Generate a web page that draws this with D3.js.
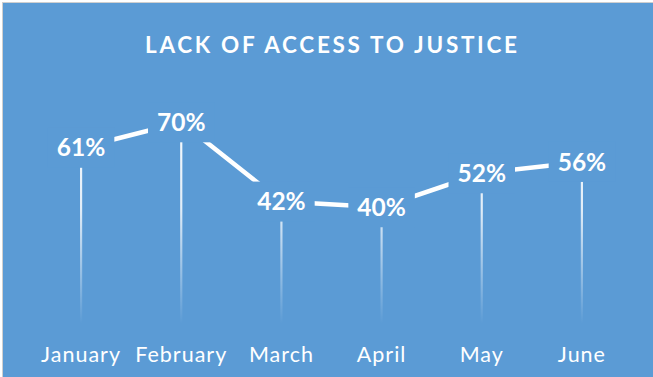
<!DOCTYPE html>
<html>
<head>
<meta charset="utf-8">
<script src="https://cdn.jsdelivr.net/npm/d3@7"></script>
<style>
  html, body { margin: 0; padding: 0; background: #ffffff; }
  svg { display: block; }
</style>
</head>
<body>
<svg id="chart" width="653" height="377"></svg>
<script>
// Monthly share of respondents reporting lack of access to justice
const months = ["January", "February", "March", "April", "May", "June"];
const shares = [61, 70, 42, 40, 52, 56];
const valueDomain = [0, 80];
const chartTitle = "LACK OF ACCESS TO JUSTICE";

const W = 653, H = 377;
const bg = "#5b9bd5";
const fontFamily = "Lato, 'Open Sans', sans-serif";

const svg = d3.select("#chart");

// Frame
svg.append("rect").attr("x", 0).attr("y", 0).attr("width", W).attr("height", H).attr("fill", "#ffffff");
svg.append("rect").attr("x", 2.5).attr("y", 2.5).attr("width", W + 10).attr("height", H + 10)
  .attr("fill", bg).attr("stroke", "#cfcfcf").attr("stroke-width", 1);

// Plot area
const plot = { left: 31, right: 632, top: 94, bottom: 320.5 };

const x = d3.scaleBand().domain(months).range([plot.left, plot.right]);
const y = d3.scaleLinear().domain(valueDomain).range([plot.bottom, plot.top]);
const cx = m => x(m) + x.bandwidth() / 2;

const data = months.map((m, i) => ({ month: m, value: shares[i] }));

// Fading gradient for the drop lines
const defs = svg.append("defs");
const grad = defs.append("linearGradient")
  .attr("id", "dropFade")
  .attr("gradientUnits", "userSpaceOnUse")
  .attr("x1", 0).attr("y1", plot.top).attr("x2", 0).attr("y2", plot.bottom + 3);
grad.append("stop").attr("offset", "0%").attr("stop-color", "#ffffff").attr("stop-opacity", 1);
grad.append("stop").attr("offset", "50%").attr("stop-color", "#ffffff").attr("stop-opacity", 0.82);
grad.append("stop").attr("offset", "100%").attr("stop-color", "#ffffff").attr("stop-opacity", 0);

// Title
svg.append("text")
  .attr("x", 145).attr("y", 52.5)
  .attr("textLength", 372).attr("lengthAdjust", "spacing")
  .attr("fill", "#ffffff")
  .attr("font-family", fontFamily)
  .attr("font-weight", "bold")
  .attr("font-size", 22.5)
  .text(chartTitle);

// Drop lines from each point to the category axis
svg.append("g").selectAll("line").data(data).join("line")
  .attr("x1", d => cx(d.month)).attr("x2", d => cx(d.month))
  .attr("y1", d => y(d.value)).attr("y2", plot.bottom + 3)
  .attr("stroke", "url(#dropFade)")
  .attr("stroke-width", 2.2);

// Series line
const line = d3.line().x(d => cx(d.month)).y(d => y(d.value));
svg.append("path").datum(data)
  .attr("d", line)
  .attr("fill", "none")
  .attr("stroke", "#ffffff")
  .attr("stroke-width", 4.5)
  .attr("stroke-linejoin", "miter");

// Data labels with a background box over the line
const labels = svg.append("g").selectAll("g").data(data).join("g")
  .attr("transform", d => `translate(${cx(d.month)},${y(d.value)})`);

labels.append("text")
  .attr("text-anchor", "middle")
  .attr("y", 8.7)
  .attr("fill", "#ffffff")
  .attr("font-family", fontFamily)
  .attr("font-weight", "bold")
  .attr("font-size", 24.5)
  .text(d => d.value + "%");

labels.each(function () {
  const g = d3.select(this);
  const w = g.select("text").node().getComputedTextLength();
  g.insert("rect", "text")
    .attr("x", -w / 2 - 9).attr("y", -20)
    .attr("width", w + 18).attr("height", 40)
    .attr("fill", bg);
});

// Category axis labels
svg.append("g").selectAll("text").data(months).join("text")
  .attr("x", d => cx(d))
  .attr("y", 362)
  .attr("text-anchor", "middle")
  .attr("fill", "#ffffff")
  .attr("font-family", fontFamily)
  .attr("font-size", 21.5)
  .attr("letter-spacing", 1)
  .text(d => d);
</script>
</body>
</html>
